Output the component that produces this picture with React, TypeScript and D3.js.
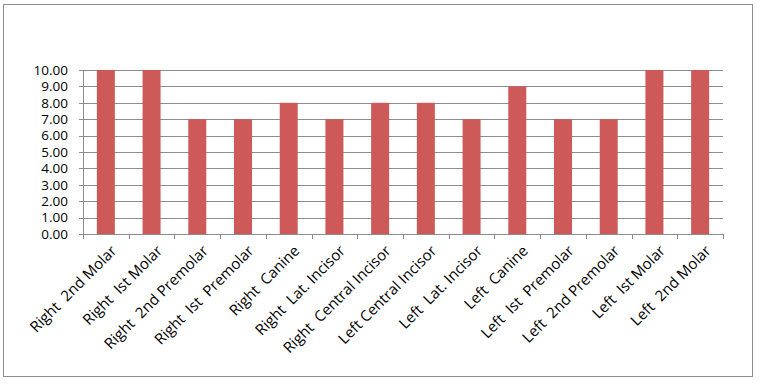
import * as d3 from 'd3';
import React, { useEffect, useRef } from 'react';

const categories = [
  'Right  2nd Molar',
  'Right  Ist Molar',
  'Right  2nd Premolar',
  'Right  Ist  Premolar',
  'Right  Canine',
  'Right  Lat. Incisor',
  'Right  Central Incisor',
  'Left Central Incisor',
  'Left  Lat. Incisor',
  'Left  Canine',
  'Left  Ist  Premolar',
  'Left  2nd Premolar',
  'Left  Ist Molar',
  'Left  2nd Molar',
];
const values = [10, 10, 7, 7, 8, 7, 8, 8, 7, 9, 7, 7, 10, 10];
const yTicks = [0, 1, 2, 3, 4, 5, 6, 7, 8, 9, 10];

const App: React.FC = () => {
  const ref = useRef<SVGSVGElement | null>(null);

  useEffect(() => {
    const width = 761;
    const height = 388;
    const left = 83;
    const right = 723;
    const top = 70;
    const bottom = 234;

    const svg = d3.select(ref.current);
    svg.selectAll('*').remove();
    svg.attr('width', width).attr('height', height);

    // outer chart border
    svg.append('rect')
      .attr('x', 3.5).attr('y', 4.5)
      .attr('width', 749).attr('height', 372)
      .attr('fill', '#fff')
      .attr('stroke', '#8c8c8c');

    const x = d3.scaleBand<string>().domain(categories).range([left, right]);
    const y = d3.scaleLinear().domain([0, 10]).range([bottom, top]);

    // gridlines
    svg.append('g')
      .selectAll('line')
      .data(yTicks)
      .enter()
      .append('line')
      .attr('x1', left - 4).attr('x2', right)
      .attr('y1', d => Math.round(y(d)) + 0.5).attr('y2', d => Math.round(y(d)) + 0.5)
      .attr('stroke', '#8c8c8c');

    // y axis line
    svg.append('line')
      .attr('x1', left + 0.5).attr('x2', left + 0.5)
      .attr('y1', top).attr('y2', bottom)
      .attr('stroke', '#8c8c8c');

    // y labels
    svg.append('g')
      .selectAll('text')
      .data(yTicks)
      .enter()
      .append('text')
      .attr('x', 68)
      .attr('y', d => y(d))
      .attr('dy', '0.36em')
      .attr('text-anchor', 'end')
      .style('font-family', '"Open Sans", sans-serif')
      .style('font-size', '13.5px')
      .attr('fill', '#000')
      .text(d => d3.format('.2f')(d));

    // x ticks
    const bounds = categories.map(c => x(c) as number).concat([right]);
    svg.append('g')
      .selectAll('line')
      .data(bounds)
      .enter()
      .append('line')
      .attr('x1', d => Math.round(d) + 0.5).attr('x2', d => Math.round(d) + 0.5)
      .attr('y1', bottom).attr('y2', bottom + 5)
      .attr('stroke', '#8c8c8c');

    // bars
    const barW = 18;
    svg.append('g')
      .selectAll('rect')
      .data(values)
      .enter()
      .append('rect')
      .attr('x', (_d, i) => (x(categories[i]) as number) + x.bandwidth() / 2 - barW / 2)
      .attr('y', d => y(d))
      .attr('width', barW)
      .attr('height', d => bottom - y(d))
      .attr('fill', '#cd5a58');

    // category labels
    svg.append('g')
      .selectAll('text')
      .data(categories)
      .enter()
      .append('text')
      .attr('transform', c => `translate(${(x(c) as number) + x.bandwidth() / 2 + 8},${bottom + 14}) rotate(-45)`)
      .attr('text-anchor', 'end')
      .attr('dy', '0.35em')
      .style('font-family', '"Open Sans", sans-serif')
      .style('font-size', '15px')
      .style('white-space', 'pre')
      .attr('fill', '#000')
      .text(c => c);
  }, []);

  return (
    <svg ref={ref} style={{ position: 'absolute', left: 0, top: 0 }}></svg>
  );
};

export default App;
